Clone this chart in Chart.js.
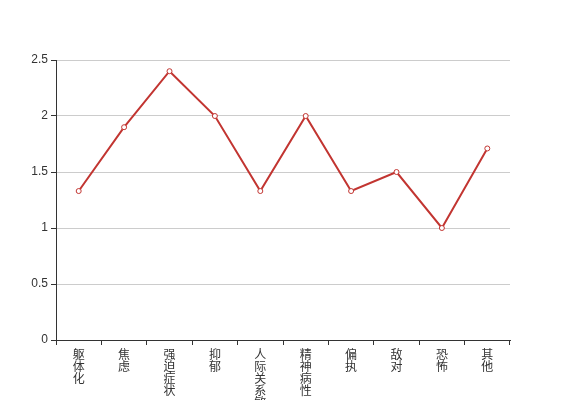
<!DOCTYPE html>
<html>
<head>
<meta charset="utf-8">
<script src="https://cdn.jsdelivr.net/npm/chart.js@4/dist/chart.umd.min.js"></script>
<style>
  html, body { margin: 0; padding: 0; background: #fff; }
</style>
</head>
<body>
<canvas id="grafico" width="567" height="400"></canvas>
<script>
const categorias = ["躯体化", "焦虑", "强迫症状", "抑郁", "人际关系敏感", "精神病性", "偏执", "敌对", "恐怖", "其他"];
const valores = [1.33, 1.9, 2.4, 2.0, 1.33, 2.0, 1.33, 1.5, 1.0, 1.71];
const yTicks = [0, 0.5, 1, 1.5, 2, 2.5];

const fonte = "'Noto Sans CJK SC', 'Liberation Sans', sans-serif";

new Chart(document.getElementById("grafico"), {
  type: "line",
  data: {
    labels: categorias.map((c) => c.split("")),
    datasets: [{
      data: valores,
      borderColor: "#c23531",
      backgroundColor: "#fff",
      borderWidth: 2,
      tension: 0,
      pointRadius: 2.5,
      pointBorderWidth: 1,
      pointBackgroundColor: "#fff",
      pointBorderColor: "#c23531"
    }]
  },
  options: {
    responsive: false,
    animation: false,
    layout: { padding: { top: 60, right: 57, bottom: 0, left: 0 } },
    plugins: { legend: { display: false }, tooltip: { enabled: false } },
    scales: {
      x: {
        offset: true,
        grid: { offset: true, drawOnChartArea: false, tickLength: 5, tickColor: "#333" },
        border: { color: "#333", width: 1 },
        ticks: {
          color: "#333",
          font: { size: 12, family: fonte, lineHeight: 1 },
          maxRotation: 0,
          autoSkip: false,
          padding: 3
        },
        afterFit: (s) => { s.height = 60; }
      },
      y: {
        min: 0,
        max: 2.5,
        afterBuildTicks: (s) => { s.ticks = yTicks.map((v) => ({ value: v })); },
        grid: { color: "#ccc", tickLength: 5, tickColor: "#333" },
        border: { color: "#333", width: 1 },
        ticks: {
          color: "#333",
          font: { size: 12, family: "'Liberation Sans', sans-serif" },
          padding: 3,
          callback: (v) => String(v)
        },
        afterFit: (s) => { s.width = 56; }
      }
    }
  }
});
</script>
</body>
</html>
